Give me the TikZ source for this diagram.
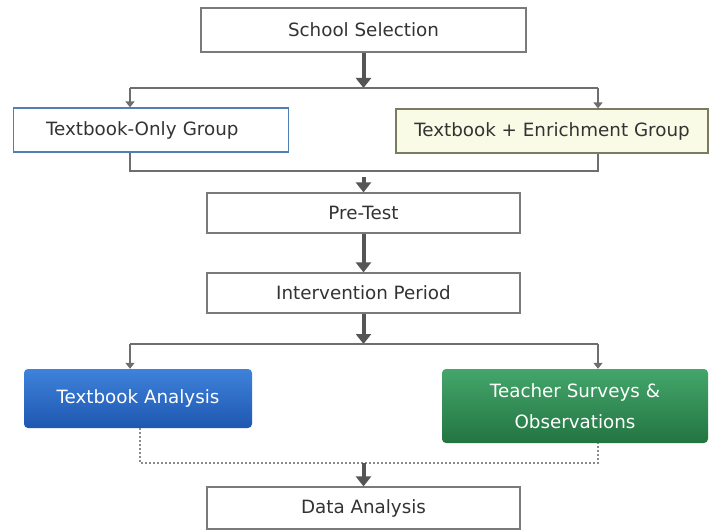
\documentclass[tikz,border=0pt]{standalone}
\usepackage{fontspec}
\setmainfont{DejaVu Sans}
\usepackage{xcolor}
\usepackage{tikz}
\usetikzlibrary{positioning, arrows.meta}

\definecolor{linegray}{HTML}{6E6E6E}
\definecolor{arrowgray}{HTML}{555555}
\definecolor{boxgray}{HTML}{7A7A7A}
\definecolor{txtgray}{HTML}{333333}
\definecolor{onlyblue}{HTML}{4F7FB3}
\definecolor{enrichfill}{HTML}{FAFBE6}
\definecolor{bluetop}{HTML}{3F82DB}
\definecolor{bluebot}{HTML}{1E57B0}
\definecolor{greentop}{HTML}{44A66B}
\definecolor{greenbot}{HTML}{237441}

\begin{document}
\begin{tikzpicture}[x=1pt, y=-1pt,
			box/.style={draw=boxgray, line width=1.2pt, rectangle, align=center, inner sep=0pt, font=\fontsize{18.3}{22}\selectfont, text=txtgray, fill=white},
			colbox/.style={draw=none, rectangle, rounded corners=4pt, align=center, inner sep=0pt, font=\fontsize{18.3}{31}\selectfont, text=white},
			mainarrow/.style={-{Triangle[length=10pt, width=15pt]}, line width=4pt, draw=arrowgray},
			branch/.style={line width=1.6pt, draw=linegray},
			branch_arrow/.style={-{Triangle[length=6pt, width=9pt]}, line width=1.6pt, draw=linegray},
			dotted_line/.style={line width=1.4pt, draw=linegray!80, dash pattern=on 2pt off 2pt}
			]
			\useasboundingbox (0,0) rectangle (714,532);
			
			% Linha 1
			\node[box, minimum width=325pt, minimum height=44pt] (school) at (363.5, 30) {School Selection};
			
			% Linha 2: grupos
			\node[box, draw=onlyblue, minimum width=275pt, minimum height=44pt, text width=250pt, align=left] (tonly) at (151, 130) {\hspace*{20pt}Textbook-Only Group};
			\node[box, draw=boxgray!80!olive, fill=enrichfill, minimum width=312pt, minimum height=44pt] (tenrich) at (552, 131) {Textbook + Enrichment Group};
			
			% Linha 3 e 4
			\node[box, minimum width=313pt, minimum height=40pt] (pretest) at (363.5, 213) {Pre-Test};
			\node[box, minimum width=313pt, minimum height=40pt] (interv) at (363.5, 293) {Intervention Period};
			
			% Linha 5: analises
			\node[colbox, top color=bluetop, bottom color=bluebot, minimum width=228pt, minimum height=59pt] (tanalysis) at (138, 398.5) {Textbook Analysis};
			\node[colbox, top color=greentop, bottom color=greenbot, minimum width=266pt, minimum height=74pt] (tsurvey) at (575, 406) {Teacher Surveys \&\\ Observations};
			
			% Linha 6
			\node[box, minimum width=313pt, minimum height=42pt] (data) at (363.5, 508) {Data Analysis};
			
			% Pontos de junção
			\coordinate (split1) at (363.5, 88);
			\coordinate (l1) at (130, 88);
			\coordinate (r1) at (598, 88);
			\coordinate (join1) at (363.5, 171);
			\coordinate (split2) at (363.5, 344);
			\coordinate (l2) at (130, 344);
			\coordinate (r2) at (598, 344);
			\coordinate (join2) at (363.5, 463);
			
			% Conexões / Setas
			\draw[mainarrow] (school) -- (split1);
			\draw[branch] (l1) -- (r1);
			\draw[branch_arrow] (l1) -- (l1 |- tonly.north);
			\draw[branch_arrow] (r1) -- (r1 |- tenrich.north);
			
			\draw[branch] (l1 |- tonly.south) |- (join1);
			\draw[branch] (r1 |- tenrich.south) |- (join1);
			\draw[mainarrow] ([yshift=-6pt]join1) -- (pretest);
			\draw[mainarrow] (pretest) -- (interv);
			\draw[mainarrow] (interv) -- (split2);
			
			\draw[branch] (l2) -- (r2);
			\draw[branch_arrow] (l2) -- (l2 |- tanalysis.north);
			\draw[branch_arrow] (r2) -- (r2 |- tsurvey.north);
			
			\draw[dotted_line] ([xshift=2pt]tanalysis.south) |- (join2) -| (r2 |- tsurvey.south);
			\draw[mainarrow] (join2) -- (data);
			
		\end{tikzpicture}
\end{document}
